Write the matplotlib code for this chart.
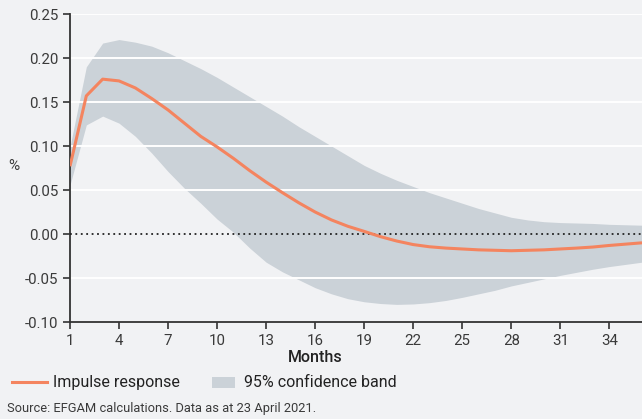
import numpy as np
import matplotlib.pyplot as plt
from matplotlib.lines import Line2D
from matplotlib.patches import Rectangle

plt.rcParams['font.family'] = ['Roboto', 'DejaVu Sans']

# Impulse response and 95% band, by month after the shock
months = np.arange(1, 37)
response = [0.077, 0.157, 0.176, 0.174, 0.166, 0.154, 0.141, 0.126, 0.111, 0.099,
            0.086, 0.072, 0.059, 0.047, 0.0355, 0.025, 0.016, 0.0088, 0.003, -0.003,
            -0.008, -0.012, -0.0145, -0.016, -0.017, -0.018, -0.0185, -0.019, -0.0185, -0.018,
            -0.017, -0.016, -0.0148, -0.013, -0.0115, -0.010]
upper = [0.099, 0.190, 0.217, 0.221, 0.218, 0.2135, 0.206, 0.197, 0.188, 0.178,
         0.167, 0.156, 0.145, 0.134, 0.122, 0.111, 0.100, 0.089, 0.078, 0.069,
         0.061, 0.054, 0.047, 0.041, 0.035, 0.029, 0.024, 0.019, 0.016, 0.014,
         0.013, 0.0125, 0.012, 0.011, 0.0105, 0.010]
lower = [0.0556, 0.124, 0.134, 0.126, 0.111, 0.092, 0.071, 0.052, 0.035, 0.017,
         0.002, -0.016, -0.032, -0.043, -0.052, -0.061, -0.068, -0.0735, -0.077, -0.079,
         -0.080, -0.0795, -0.078, -0.0755, -0.072, -0.068, -0.064, -0.059, -0.055, -0.051,
         -0.047, -0.0435, -0.040, -0.037, -0.0345, -0.032]
yticks = [-0.10, -0.05, 0.00, 0.05, 0.10, 0.15, 0.20, 0.25]
xticks = list(range(1, 35, 3))

bg = '#f1f2f4'
band_col = '#cbd2d8'
line_col = '#f4845f'
ink = '#3a3a3a'

W, H = 642, 419
fig = plt.figure(figsize=(W / 100, H / 100), dpi=100, facecolor=bg)
ax = fig.add_axes([0.109, 0.2315, 0.891, 0.735])
ax.set_facecolor(bg)

ax.fill_between(months, lower, upper, color=band_col, lw=0, zorder=1)
for y in yticks[1:]:
    if y != 0:
        ax.axhline(y, color='white', lw=1.4, zorder=2)
ax.axhline(0, color='#222222', lw=1.3, ls=(0, (1, 2)), zorder=3)
ax.plot(months, response, color=line_col, lw=2.2, zorder=4, solid_capstyle='butt')

ax.set_xlim(1, 36)
ax.set_ylim(-0.10, 0.25)
ax.set_yticks(yticks)
ax.set_yticklabels([f'{v:.2f}' for v in yticks])
ax.set_xticks(xticks)

for side in ['top', 'right']:
    ax.spines[side].set_visible(False)
for side in ['left', 'bottom']:
    ax.spines[side].set_color('#333333')
    ax.spines[side].set_linewidth(1.3)
ax.tick_params(axis='both', colors='#333333', labelcolor=ink, labelsize=10.8,
               length=5, width=1.2, direction='out')

fig.text(315 / W, 1 - 357 / H, 'Months', fontsize=11.5, fontweight='medium',
         color='#222222', va='center', ha='center')
fig.text(14 / W, 1 - 166 / H, '%', fontsize=11, color=ink, va='center', ha='center')

# legend row, laid out in figure pixels
ly = 1 - 382 / H
fig.add_artist(Line2D([12 / W, 47 / W], [ly, ly], color=line_col, lw=2.2,
                      transform=fig.transFigure))
fig.text(53 / W, ly, 'Impulse response', fontsize=11.5, color='#222222',
         va='center', ha='left')
fig.add_artist(Rectangle((212 / W, 1 - 388 / H), 23 / W, 11 / H, facecolor=band_col,
                         edgecolor='none', transform=fig.transFigure))
fig.text(244 / W, ly, '95% confidence band', fontsize=11.5, color='#222222',
         va='center', ha='left')

fig.text(7 / W, 1 - 408 / H, 'Source: EFGAM calculations. Data as at 23 April 2021.',
         fontsize=9.3, color=ink, va='center', ha='left')

fig.savefig('out.png', dpi=100, facecolor=bg)
